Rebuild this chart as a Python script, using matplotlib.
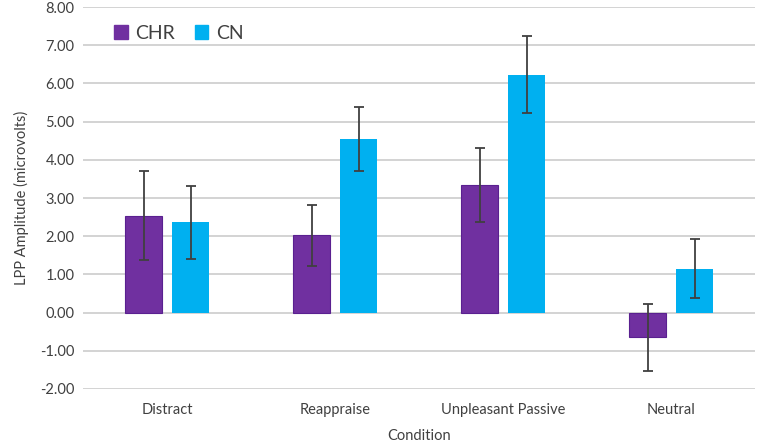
import numpy as np
import matplotlib.pyplot as plt
from matplotlib.patches import Patch

conditions = ["Distract", "Reappraise", "Unpleasant Passive", "Neutral"]
chr_vals = [2.54, 2.02, 3.35, -0.65]
chr_err = [1.16, 0.80, 0.97, 0.87]
cn_vals = [2.36, 4.55, 6.23, 1.15]
cn_err = [0.96, 0.83, 1.00, 0.78]

plt.rcParams['font.family'] = ['Lato', 'DejaVu Sans']

fig = plt.figure(figsize=(7.62, 4.43), dpi=100)
ax = fig.add_axes([0.109, 0.122, 0.882, 0.862])

x = np.arange(len(conditions))
w = 0.22
off = 0.14
purple = "#7030A0"
blue = "#00B0F0"

ax.bar(x - off, chr_vals, w, color=purple, edgecolor="#5a2090", linewidth=0.8, zorder=3)
ax.bar(x + off, cn_vals, w, color=blue, zorder=3)
ax.errorbar(x - off, chr_vals, yerr=chr_err, fmt="none", ecolor="#404040",
            elinewidth=1.3, capsize=3.5, capthick=1.3, zorder=4)
ax.errorbar(x + off, cn_vals, yerr=cn_err, fmt="none", ecolor="#404040",
            elinewidth=1.3, capsize=3.5, capthick=1.3, zorder=4)

ax.set_xlim(-0.5, 3.5)
ax.set_ylim(-2, 8)
ax.set_yticks(np.arange(-2, 9, 1))
ax.set_yticklabels([f"{v:.2f}" for v in np.arange(-2, 9, 1)])
ax.set_xticks(x)
ax.set_xticklabels(conditions)
ax.tick_params(length=0, labelsize=10.5, colors="#404040", pad=6)
ax.tick_params(axis="x", pad=10)
ax.grid(axis="y", color="#d0d0d0", linewidth=1.3, zorder=0)
for s in ax.spines.values():
    s.set_visible(False)

ax.set_ylabel("LPP Amplitude (microvolts)", fontsize=10.5, color="#404040", labelpad=8)
ax.set_xlabel("Condition", fontsize=10.5, color="#404040", labelpad=9)

handles = [Patch(color=purple, label="CHR"), Patch(color=blue, label="CN")]
ax.legend(handles=handles, loc="upper left", bbox_to_anchor=(0.02, 1.0), ncol=2,
          frameon=False, fontsize=14, handlelength=0.7, handleheight=0.7,
          handletextpad=0.4, columnspacing=1.0, labelcolor="#404040")

fig.savefig("out.png", dpi=100)
